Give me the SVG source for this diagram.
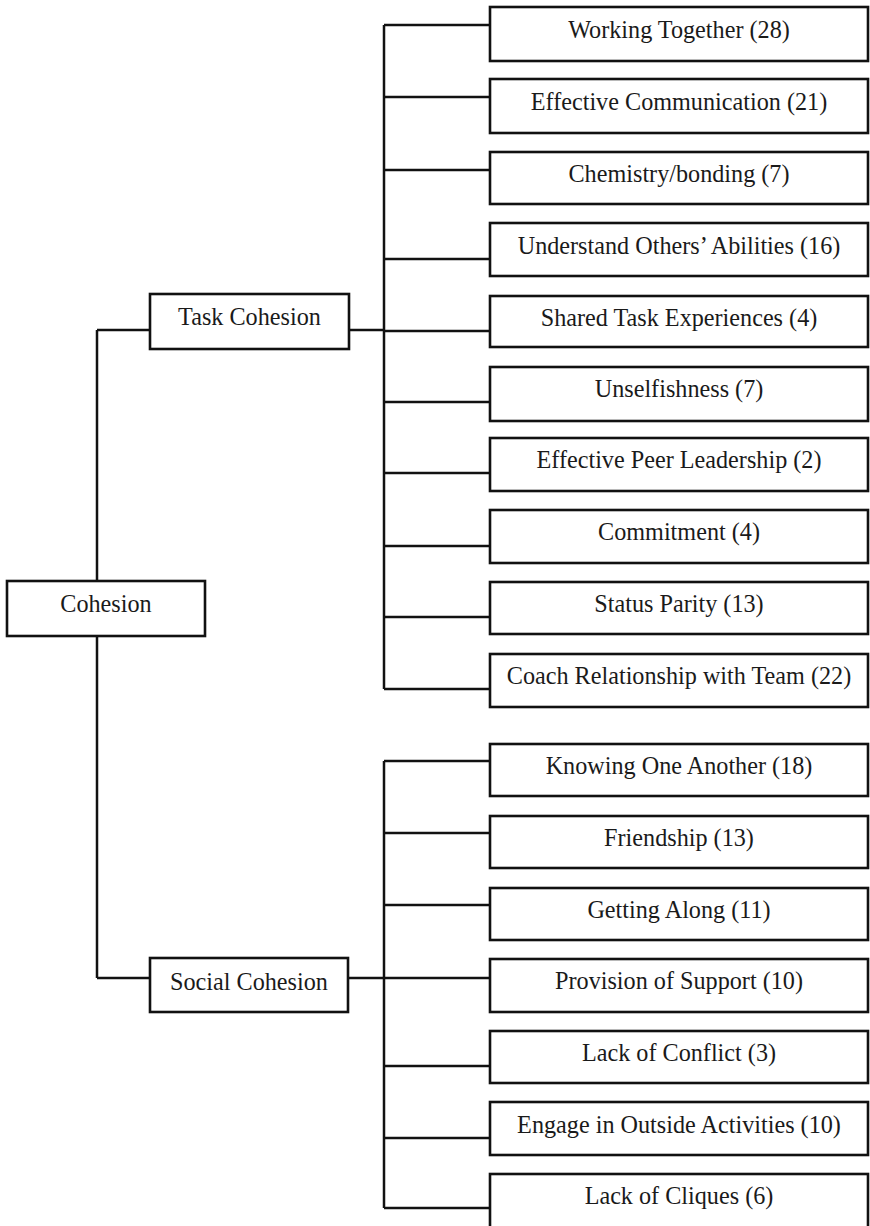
<svg xmlns="http://www.w3.org/2000/svg" width="870" height="1226" viewBox="0 0 870 1226">
<style>
rect{fill:#fff;stroke:#111;stroke-width:2.6}
text{font-family:"Liberation Serif","Times New Roman",serif;font-size:24.2px;fill:#1a1a1a;text-anchor:middle}
.c{fill:none;stroke:#111;stroke-width:2.5}
</style>
<rect x="0" y="0" width="870" height="1226" style="stroke:none"/>
<g id="connectors">
<path class="c" d="M97 330V978M97 330H150M97 978H150"/>
<path class="c" d="M349 330H384M384 25V689"/>
<path class="c" d="M384 25H490M384 97H490M384 170H490M384 259H490M384 331H490M384 402H490M384 473H490M384 546H490M384 617H490M384 689H490"/>
<path class="c" d="M348 978H384M384 761V1208"/>
<path class="c" d="M384 761H490M384 833H490M384 905H490M384 978H490M384 1066H490M384 1138H490M384 1208H490"/>
</g>
<g id="cohesion"><rect x="7" y="581" width="198" height="55"/><text x="106" y="612">Cohesion</text></g>
<g id="task"><rect x="150" y="294" width="199" height="55"/><text x="249.5" y="325">Task Cohesion</text></g>
<g id="social"><rect x="150" y="958" width="198" height="54"/><text x="249" y="990">Social Cohesion</text></g>
<g id="t1"><rect x="490" y="7" width="378" height="54"/><text x="679" y="38">Working Together (28)</text></g>
<g id="t2"><rect x="490" y="79" width="378" height="54"/><text x="679" y="110">Effective Communication (21)</text></g>
<g id="t3"><rect x="490" y="152" width="378" height="52"/><text x="679" y="182">Chemistry/bonding (7)</text></g>
<g id="t4"><rect x="490" y="223" width="378" height="53"/><text x="679" y="254">Understand Others’ Abilities (16)</text></g>
<g id="t5"><rect x="490" y="296" width="378" height="51"/><text x="679" y="326">Shared Task Experiences (4)</text></g>
<g id="t6"><rect x="490" y="367" width="378" height="54"/><text x="679" y="397">Unselfishness (7)</text></g>
<g id="t7"><rect x="490" y="438" width="378" height="53"/><text x="679" y="468">Effective Peer Leadership (2)</text></g>
<g id="t8"><rect x="490" y="510" width="378" height="53"/><text x="679" y="540">Commitment (4)</text></g>
<g id="t9"><rect x="490" y="582" width="378" height="52"/><text x="679" y="612">Status Parity (13)</text></g>
<g id="t10"><rect x="490" y="654" width="378" height="53"/><text x="679" y="684">Coach Relationship with Team (22)</text></g>
<g id="s1"><rect x="490" y="744" width="378" height="52"/><text x="679" y="774">Knowing One Another (18)</text></g>
<g id="s2"><rect x="490" y="816" width="378" height="52"/><text x="679" y="846">Friendship (13)</text></g>
<g id="s3"><rect x="490" y="888" width="378" height="52"/><text x="679" y="918">Getting Along (11)</text></g>
<g id="s4"><rect x="490" y="959" width="378" height="53"/><text x="679" y="989">Provision of Support (10)</text></g>
<g id="s5"><rect x="490" y="1031" width="378" height="52"/><text x="679" y="1061">Lack of Conflict (3)</text></g>
<g id="s6"><rect x="490" y="1102" width="378" height="53"/><text x="679" y="1133">Engage in Outside Activities (10)</text></g>
<g id="s7"><rect x="490" y="1174" width="378" height="56"/><text x="679" y="1204">Lack of Cliques (6)</text></g>
</svg>
